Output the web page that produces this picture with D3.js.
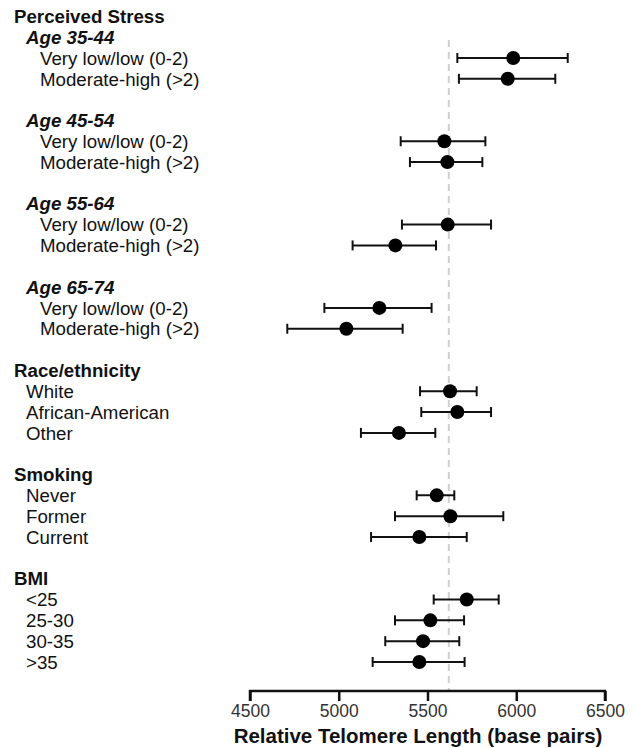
<!DOCTYPE html>
<html>
<head>
<meta charset="utf-8">
<script src="https://cdn.jsdelivr.net/npm/d3@7"></script>
<style>
  html, body { margin: 0; padding: 0; background: #fff; }
  svg { display: block; font-family: "Liberation Sans", Arial, Helvetica, sans-serif; }
</style>
</head>
<body>
<svg id="chart" width="633" height="748"></svg>
<script>
// Row labels in display order ("" marks a spacer row)
const rowLabels = [
  "Perceived Stress",
  "Age 35-44", "Very low/low (0-2)", "Moderate-high (>2)", "",
  "Age 45-54", "Very low/low (0-2)", "Moderate-high (>2)", "",
  "Age 55-64", "Very low/low (0-2)", "Moderate-high (>2)", "",
  "Age 65-74", "Very low/low (0-2)", "Moderate-high (>2)", "",
  "Race/ethnicity", "White", "African-American", "Other", "",
  "Smoking", "Never", "Former", "Current", "",
  "BMI", "<25", "25-30", "30-35", ">35"
];
// Row role: H = section heading, S = sub-heading, I2 = nested item, I1 = item, G = gap
const rowKinds = [
  "H",
  "S", "I2", "I2", "G",
  "S", "I2", "I2", "G",
  "S", "I2", "I2", "G",
  "S", "I2", "I2", "G",
  "H", "I1", "I1", "I1", "G",
  "H", "I1", "I1", "I1", "G",
  "H", "I1", "I1", "I1", "I1"
];
// Mean relative telomere length (bp) and 95% CI bounds, aligned with rows
const meanBp = [
  null,
  null, 5983, 5952, null,
  null, 5595, 5612, null,
  null, 5614, 5319, null,
  null, 5229, 5043, null,
  null, 5627, 5668, 5339, null,
  null, 5552, 5629, 5454, null,
  null, 5721, 5516, 5475, 5454
];
const lowerBp = [
  null,
  null, 5668, 5677, null,
  null, 5349, 5401, null,
  null, 5356, 5078, null,
  null, 4919, 4710, null,
  null, 5458, 5465, 5125, null,
  null, 5439, 5317, 5182, null,
  null, 5535, 5317, 5262, 5191
];
const upperBp = [
  null,
  null, 6290, 6220, null,
  null, 5826, 5809, null,
  null, 5858, 5548, null,
  null, 5523, 5360, null,
  null, 5777, 5858, 5544, null,
  null, 5651, 5927, 5721, null,
  null, 5901, 5706, 5679, 5709
];
const axisTicks = [4500, 5000, 5500, 6000, 6500];
const referenceBp = 5620;
const axisTitle = "Relative Telomere Length (base pairs)";

const svg = d3.select("#chart");

const x = d3.scaleLinear().domain([4500, 6500]).range([250, 605]);
const y = d3.scaleLinear().domain([0, rowLabels.length - 1]).range([16.3, 662]);
const axisY = 691;

const rows = rowLabels.map((label, i) => ({
  label, kind: rowKinds[i], mean: meanBp[i], lo: lowerBp[i], hi: upperBp[i], i
}));

// Reference line at the overall mean
svg.append("line")
  .attr("x1", x(referenceBp)).attr("x2", x(referenceBp))
  .attr("y1", 40).attr("y2", axisY)
  .attr("stroke", "#cfcfcf")
  .attr("stroke-width", 2)
  .attr("stroke-dasharray", "7,5");

// Row labels
const indent = { H: 14, S: 26, I2: 40, I1: 26 };
svg.append("g").selectAll("text")
  .data(rows.filter(d => d.kind !== "G"))
  .join("text")
  .attr("x", d => indent[d.kind])
  .attr("y", d => y(d.i))
  .attr("dy", "0.36em")
  .attr("font-size", 18.7)
  .attr("font-weight", d => (d.kind === "H" || d.kind === "S") ? "bold" : "normal")
  .attr("font-style", d => d.kind === "S" ? "italic" : "normal")
  .attr("fill", "#111")
  .text(d => d.label);

// Confidence intervals and point estimates
const data = rows.filter(d => d.mean != null);
const marks = svg.append("g");
marks.selectAll("line.ci")
  .data(data).join("line").attr("class", "ci")
  .attr("x1", d => x(d.lo)).attr("x2", d => x(d.hi))
  .attr("y1", d => y(d.i)).attr("y2", d => y(d.i))
  .attr("stroke", "#111").attr("stroke-width", 2);
marks.selectAll("line.capL")
  .data(data).join("line").attr("class", "capL")
  .attr("x1", d => x(d.lo)).attr("x2", d => x(d.lo))
  .attr("y1", d => y(d.i) - 5).attr("y2", d => y(d.i) + 5)
  .attr("stroke", "#111").attr("stroke-width", 2);
marks.selectAll("line.capR")
  .data(data).join("line").attr("class", "capR")
  .attr("x1", d => x(d.hi)).attr("x2", d => x(d.hi))
  .attr("y1", d => y(d.i) - 5).attr("y2", d => y(d.i) + 5)
  .attr("stroke", "#111").attr("stroke-width", 2);
marks.selectAll("circle")
  .data(data).join("circle")
  .attr("cx", d => x(d.mean)).attr("cy", d => y(d.i))
  .attr("r", 7).attr("fill", "#000");

// Bottom axis
const axis = d3.axisBottom(x).tickValues(axisTicks).tickFormat(d3.format("d"))
  .tickSizeInner(10).tickSizeOuter(10).tickPadding(4);
const gAxis = svg.append("g").attr("transform", `translate(0,${axisY})`).call(axis);
gAxis.select(".domain").attr("stroke", "#111").attr("stroke-width", 2.5)
  .attr("d", `M${x(4500)},10V0H${x(6500)}V10`);
gAxis.selectAll(".tick line").attr("stroke", "#111").attr("stroke-width", 2.5);
gAxis.selectAll(".tick text")
  .attr("font-size", 17.5).attr("fill", "#333")
  .attr("font-family", "Liberation Sans, Arial, sans-serif");

svg.append("text")
  .attr("x", 418)
  .attr("y", 743)
  .attr("text-anchor", "middle")
  .attr("font-size", 20.5)
  .attr("font-weight", "bold")
  .attr("fill", "#111")
  .text(axisTitle);
</script>
</body>
</html>
